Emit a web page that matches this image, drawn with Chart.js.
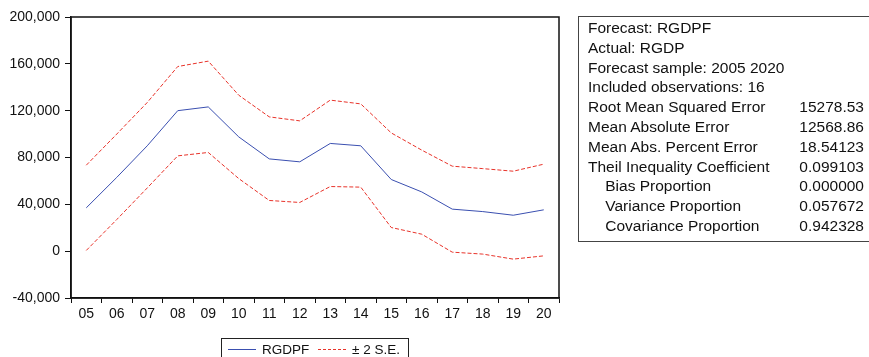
<!DOCTYPE html>
<html>
<head>
<meta charset="utf-8">
<script src="https://cdn.jsdelivr.net/npm/chart.js@4"></script>
<style>
  body { margin: 0; background: #fff; font-family: 'Liberation Sans', Arial, sans-serif; }
  #wrap { position: relative; width: 869px; height: 357px; overflow: hidden; }
  #stats {
    position: absolute; left: 578px; top: 16px; width: 310px; height: 226px;
    border: 1px solid #444; box-sizing: border-box; padding: 1px 0 0 9px;
    font-size: 15.5px; color: #111; line-height: 19.8px;
  }
  #stats .row { display: flex; }
  #stats .lbl { width: 185px; white-space: nowrap; }
  #stats .val { width: 91px; text-align: right; }
  #legend {
    position: absolute; left: 221px; top: 338px; width: 188px; height: 24px;
    border: 1px solid #222; box-sizing: border-box; font-size: 13.5px; color: #111;
  }
  #legend span { position: absolute; top: 3px; }
  #legend .ln { position: absolute; top: 10px; width: 28px; height: 0; }
</style>
</head>
<body>
<div id="wrap">
  <canvas id="forecastChart" width="869" height="357"></canvas>
  <div id="stats"></div>
  <div id="legend">
    <div class="ln" style="left:6px; border-top:1px solid #3a4fb0;"></div>
    <span style="left:40px;">RGDPF</span>
    <div class="ln" style="left:96px; border-top:1px dashed #e8332a;"></div>
    <span style="left:130px;">± 2 S.E.</span>
  </div>
</div>
<script>
// Forecast years 2005-2020
const years = ['05', '06', '07', '08', '09', '10', '11', '12', '13', '14', '15', '16', '17', '18', '19', '20'];
const rgdpf = [37000, 63000, 90000, 120000, 123200, 97600, 78800, 76300, 92000, 90000, 61200, 50600, 35900, 33800, 30700, 35300];
const upperSE = [73400, 100000, 127000, 157700, 162300, 133200, 114700, 111300, 129000, 125800, 101000, 86300, 72600, 70500, 68300, 74300];
const lowerSE = [600, 27000, 54000, 81400, 84300, 62000, 43300, 41600, 55200, 54700, 20200, 14500, -850, -2500, -6800, -4000];
const yTicks = [-40000, 0, 40000, 80000, 120000, 160000, 200000];

// Forecast evaluation table
const statLabels = ['Forecast: RGDPF', 'Actual: RGDP', 'Forecast sample: 2005 2020', 'Included observations: 16',
  'Root Mean Squared Error', 'Mean Absolute Error', 'Mean Abs. Percent Error', 'Theil Inequality Coefficient',
  '\u00a0\u00a0\u00a0\u00a0Bias Proportion', '\u00a0\u00a0\u00a0\u00a0Variance Proportion', '\u00a0\u00a0\u00a0\u00a0Covariance Proportion'];
const statValues = ['', '', '', '', '15278.53', '12568.86', '18.54123', '0.099103', '0.000000', '0.057672', '0.942328'];

const statsBox = document.getElementById('stats');
statLabels.forEach((lbl, i) => {
    const row = document.createElement('div');
    row.className = 'row';
    row.innerHTML = '<div class="lbl">' + lbl + '</div><div class="val">' + statValues[i] + '</div>';
    statsBox.appendChild(row);
});

// frame around the plot area
const frame = {
    id: 'frame',
    afterDraw(chart) {
        const a = chart.chartArea;
        const c = chart.ctx;
        c.save();
        c.strokeStyle = '#111';
        c.lineWidth = 1.5;
        c.strokeRect(a.left, a.top, a.right - a.left, a.bottom - a.top);
        c.restore();
    }
};

const ctx = document.getElementById('forecastChart').getContext('2d');
new Chart(ctx, {
    type: 'line',
    data: {
        labels: years,
        datasets: [
            { label: 'RGDPF', data: rgdpf, borderColor: '#3a4fb0', borderWidth: 1 },
            { label: '+2 S.E.', data: upperSE, borderColor: '#e8332a', borderWidth: 1, borderDash: [4, 2] },
            { label: '-2 S.E.', data: lowerSE, borderColor: '#e8332a', borderWidth: 1, borderDash: [4, 2] }
        ]
    },
    options: {
        responsive: false,
        animation: false,
        layout: { padding: { left: 0, top: 17, right: 310, bottom: 0 } },
        elements: {
            point: { radius: 0 },
            line: { tension: 0 }
        },
        plugins: {
            legend: { display: false },
            tooltip: { enabled: false }
        },
        scales: {
            x: {
                offset: true,
                grid: { offset: true, drawOnChartArea: false, drawTicks: true, tickLength: 5, color: '#111' },
                border: { color: '#111', width: 1.5 },
                ticks: { color: '#111', padding: 3, maxRotation: 0, autoSkip: false,
                    font: { family: 'Liberation Sans', size: 14 } },
                afterFit: (scale) => { scale.height = 59; }
            },
            y: {
                min: -40000,
                max: 200000,
                afterBuildTicks: (scale) => { scale.ticks = yTicks.map(v => ({ value: v })); },
                grid: { drawOnChartArea: false, drawTicks: true, tickLength: 6, color: '#111' },
                border: { color: '#111', width: 1.5 },
                ticks: { color: '#111', padding: 5,
                    font: { family: 'Liberation Sans', size: 14 },
                    callback: (v) => v.toLocaleString('en-US') },
                afterFit: (scale) => { scale.width = 71; }
            }
        }
    },
    plugins: [frame]
});
</script>
</body>
</html>
